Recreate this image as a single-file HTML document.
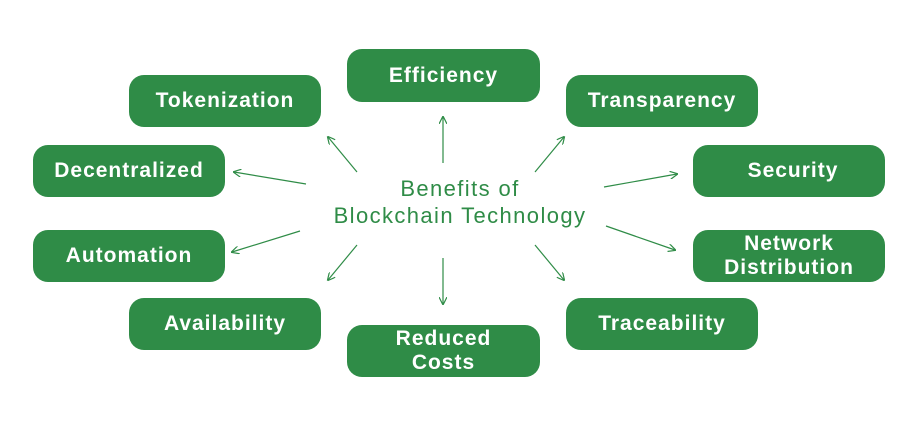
<!DOCTYPE html>
<html><head><meta charset="utf-8"><style>
body{margin:0;width:918px;height:427px;background:#fff;overflow:hidden;position:relative;font-family:"Liberation Sans",sans-serif}
.b{position:absolute;width:192px;height:52px;background:#2f8c47;border-radius:15px;color:#fff;font-size:21px;font-weight:bold;display:flex;align-items:center;justify-content:center;text-align:center;line-height:24px;letter-spacing:1px}
.c{position:absolute;left:280px;width:360px;text-align:center;color:#2f8c47;font-size:22px;line-height:27px;top:175px;letter-spacing:1.4px}
svg{position:absolute;left:0;top:0}
</style></head><body>
<div class="b" style="left:129px;top:75px">Tokenization</div>
<div class="b" style="left:33px;top:145px">Decentralized</div>
<div class="b" style="left:33px;top:230px">Automation</div>
<div class="b" style="left:129px;top:298px">Availability</div>
<div class="b" style="left:347px;top:49px;width:193px;height:53px">Efficiency</div>
<div class="b" style="left:347px;top:325px;width:193px;height:52px">Reduced<br>Costs</div>
<div class="b" style="left:566px;top:75px">Transparency</div>
<div class="b" style="left:693px;top:145px;padding-left:8px;box-sizing:border-box">Security</div>
<div class="b" style="left:693px;top:230px">Network<br>Distribution</div>
<div class="b" style="left:566px;top:298px">Traceability</div>
<div class="c">Benefits of<br>Blockchain Technology</div>
<svg width="918" height="427"><defs><marker id="a" markerWidth="8" markerHeight="8" refX="7" refY="4" orient="auto" markerUnits="userSpaceOnUse"><path d="M0,0 L8,4 L0,8" fill="none" stroke="#2f8c47" stroke-width="1.2"/></marker></defs>
<g stroke="#2f8c47" stroke-width="1.2" marker-end="url(#a)">
<line x1="443" y1="163" x2="443" y2="117"/>
<line x1="357" y1="172" x2="328" y2="137"/>
<line x1="535" y1="172" x2="564" y2="137"/>
<line x1="306" y1="184" x2="234" y2="172"/>
<line x1="300" y1="231" x2="232" y2="252"/>
<line x1="357" y1="245" x2="328" y2="280"/>
<line x1="443" y1="258" x2="443" y2="304"/>
<line x1="535" y1="245" x2="564" y2="280"/>
<line x1="604" y1="187" x2="677" y2="174"/>
<line x1="606" y1="226" x2="675" y2="250"/>
</g></svg>
</body></html>
